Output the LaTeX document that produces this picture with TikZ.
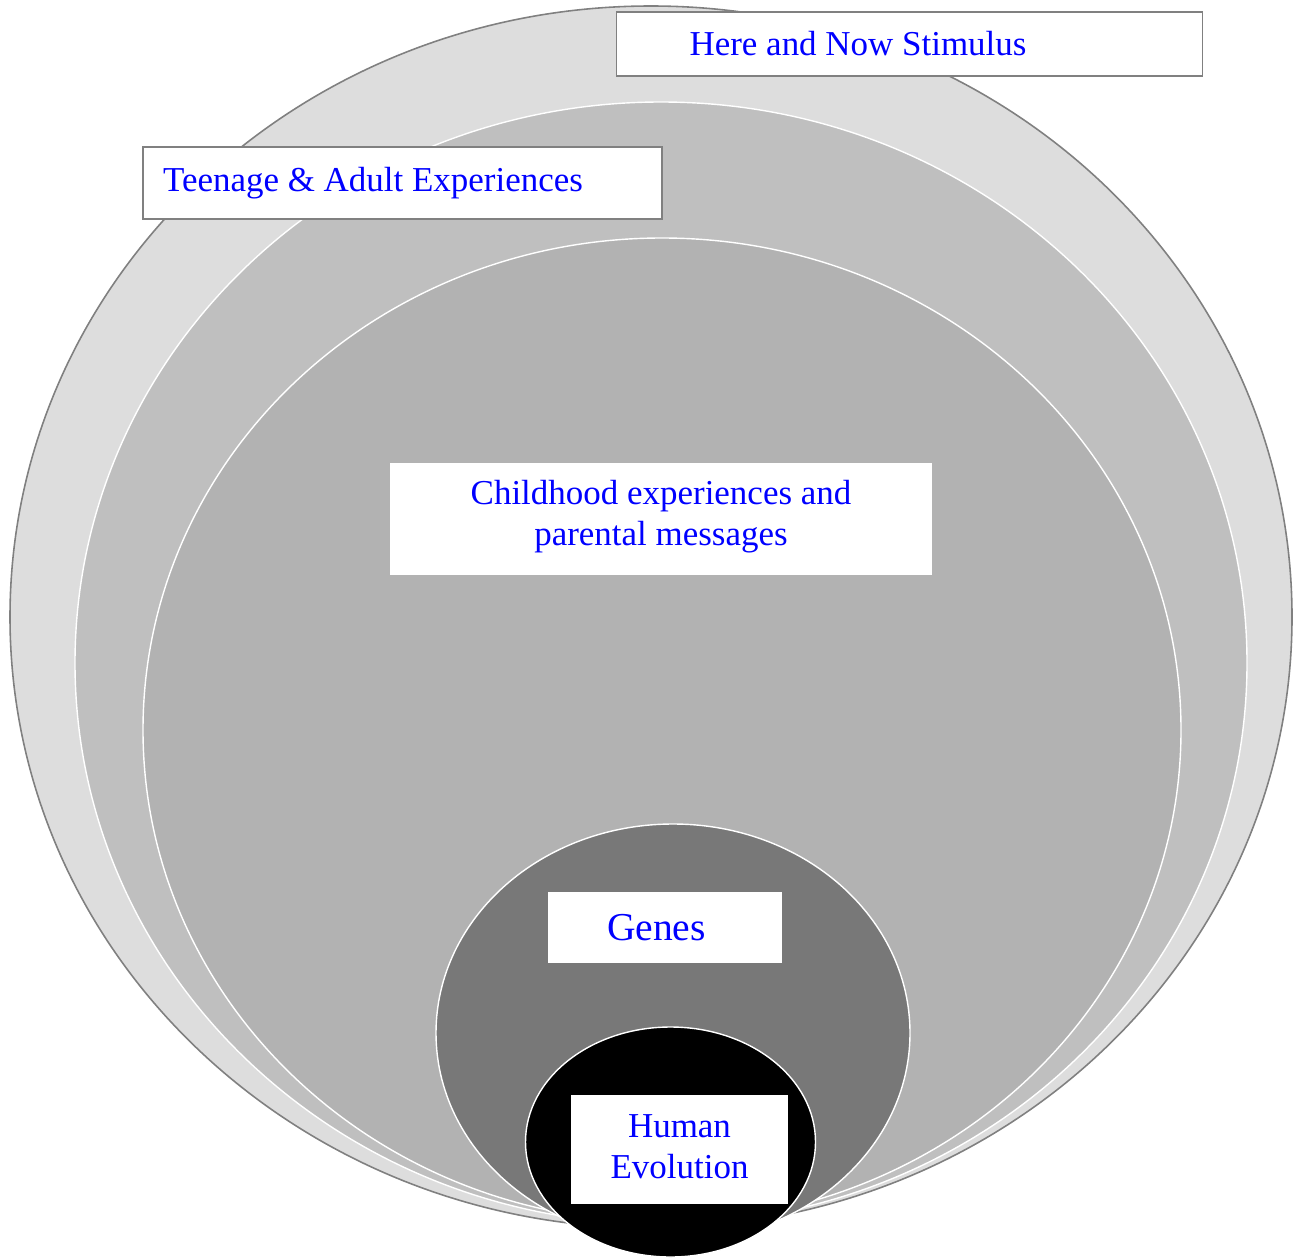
\documentclass[tikz,border=0pt]{standalone}
\usepackage{fontspec}
\setmainfont{Liberation Serif}
\usepackage{xcolor}

\definecolor{ringA}{HTML}{DDDDDD}
\definecolor{ringB}{HTML}{BFBFBF}
\definecolor{ringC}{HTML}{B2B2B2}
\definecolor{ringD}{HTML}{787878}
\definecolor{edgegray}{HTML}{808080}
\definecolor{labelblue}{HTML}{0000FF}

\begin{document}
\begin{tikzpicture}[x=0.02cm,y=-0.02cm,
                ring/.style={draw=white,line width=0.8pt},
                labelbox/.style={fill=white,text=labelblue,inner ysep=0pt,
                        font=\fontsize{19.9}{23.3}\selectfont},
                framed/.style={labelbox,draw=edgegray,line width=0.9pt}]
                \useasboundingbox (0,0) rectangle (1297,1257);

                \coordinate (O1) at (651,617);
                \coordinate (O2) at (661,663);
                \coordinate (O3) at (662,730);
                \coordinate (O4) at (673,1033);
                \coordinate (O5) at (670.5,1142);

                \draw[fill=ringA,draw=edgegray,line width=0.9pt] (O1) ellipse [x radius=641, y radius=611];
                \draw[ring,fill=ringB] (O2) ellipse [x radius=586, y radius=561];
                \draw[ring,fill=ringC] (O3) ellipse [x radius=519, y radius=492];
                \draw[ring,fill=ringD] (O4) ellipse [x radius=237, y radius=209];
                \draw[ring,fill=black] (O5) ellipse [x radius=145, y radius=115];

                \node (here) at (909.5,44) [framed,inner xsep=1.46cm,text width=8.8cm,
                        minimum height=1.28cm,align=flush left] {Here and Now Stimulus};
                \node (teen) at (402.5,183) [framed,inner xsep=0.4cm,text width=9.58cm,
                        minimum height=1.44cm,align=flush left] {Teenage \& Adult Experiences};
                \node (child) at (661,519) [labelbox,minimum width=10.84cm,
                        minimum height=2.24cm,align=center,text depth=0.24cm] {Childhood experiences and\\parental messages};
                \node (genes) at (665,927.5) [labelbox,inner xsep=1.18cm,text width=2.32cm,
                        minimum height=1.42cm,align=flush left,
                        font=\fontsize{22.5}{26}\selectfont] {Genes};
                \node (human) at (679.5,1149.5) [labelbox,minimum width=4.34cm,
                        minimum height=2.18cm,align=center,text depth=0.12cm] {Human\\Evolution};

                \end{tikzpicture}
\end{document}
